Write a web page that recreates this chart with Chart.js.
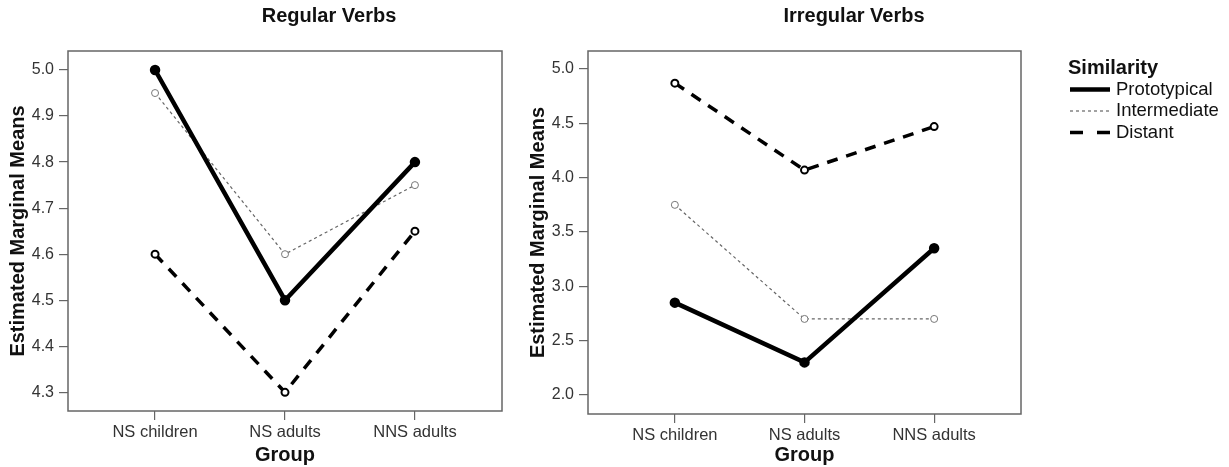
<!DOCTYPE html>
<html>
<head>
<meta charset="utf-8">
<title>Estimated Marginal Means</title>
<script src="https://cdn.jsdelivr.net/npm/chart.js@4.4.1/dist/chart.umd.min.js"></script>
<style>
  html, body { margin: 0; padding: 0; background: #fff; }
  #wrap { position: relative; width: 1229px; height: 467px; overflow: hidden; }
  canvas { position: absolute; top: 0; }
  #regular { left: 0; }
  #irregular { left: 520px; }
</style>
</head>
<body>
<div id="wrap">
  <canvas id="regular" width="520" height="467"></canvas>
  <canvas id="irregular" width="709" height="467"></canvas>
</div>
<script>
// chart data
const groups = ['NS children', 'NS adults', 'NNS adults'];
const similarity = ['Prototypical', 'Intermediate', 'Distant'];

// Regular verbs
const regPrototypical = [5.0, 4.5, 4.8];
const regIntermediate = [4.95, 4.6, 4.75];
const regDistant = [4.6, 4.3, 4.65];
const regTicks = [4.3, 4.4, 4.5, 4.6, 4.7, 4.8, 4.9, 5.0];

// Irregular verbs
const irrPrototypical = [2.85, 2.3, 3.35];
const irrIntermediate = [3.75, 2.7, 2.7];
const irrDistant = [4.87, 4.07, 4.47];
const irrTicks = [2.0, 2.5, 3.0, 3.5, 4.0, 4.5, 5.0];

const FONT = '"Liberation Sans", Arial, Helvetica, sans-serif';
const AXIS_GRAY = '#666';

// frame around plot area, panel title and (optionally) the legend
const panelExtras = {
    id: 'panelExtras',
    beforeDatasetsDraw(chart) {
        const { ctx, chartArea: a } = chart;
        ctx.save();
        ctx.strokeStyle = AXIS_GRAY;
        ctx.lineWidth = 1.5;
        ctx.strokeRect(a.left, a.top, a.right - a.left, a.bottom - a.top);
        ctx.restore();
    },
    afterDraw(chart, args, opts) {
        const ctx = chart.ctx;
        ctx.save();
        ctx.fillStyle = '#111';
        ctx.textAlign = 'center';
        ctx.textBaseline = 'middle';
        ctx.font = 'bold 20px ' + FONT;
        ctx.fillText(opts.title, opts.titleX, opts.titleY);

        if (opts.legend) {
            const lg = opts.legend;
            ctx.textAlign = 'left';
            ctx.font = 'bold 20px ' + FONT;
            ctx.fillText(lg.title, lg.x, lg.y);
            ctx.font = '18.5px ' + FONT;
            chart.data.datasets.forEach(function (ds, i) {
                const y = lg.y + lg.rowGap * (i + 1);
                ctx.strokeStyle = ds.borderColor;
                ctx.lineWidth = ds.borderWidth;
                ctx.setLineDash(lg.dashes[i]);
                ctx.beginPath();
                ctx.moveTo(lg.x + 2, y);
                ctx.lineTo(lg.x + 42, y);
                ctx.stroke();
                ctx.fillStyle = '#111';
                ctx.fillText(ds.label, lg.x + 48, y);
            });
        }
        ctx.restore();
    }
};

function makeDatasets(proto, inter, dist) {
    const pts = arr => arr.map((v, i) => ({ x: i, y: v }));
    return [
        {
            label: similarity[0], data: pts(proto),
            borderColor: '#000', borderWidth: 4.5,
            pointRadius: 4, pointBorderWidth: 2.5,
            pointBorderColor: '#000', pointBackgroundColor: '#000'
        },
        {
            label: similarity[1], data: pts(inter),
            borderColor: '#666', borderWidth: 1.2, borderDash: [3, 3],
            pointRadius: 3.5, pointBorderWidth: 1,
            pointBorderColor: '#777', pointBackgroundColor: '#fff'
        },
        {
            label: similarity[2], data: pts(dist),
            borderColor: '#000', borderWidth: 3.5, borderDash: [11, 9],
            pointRadius: 3.5, pointBorderWidth: 2,
            pointBorderColor: '#000', pointBackgroundColor: '#fff'
        }
    ];
}

function makeOptions(yMin, yMax, yTicks, xAxisHeight, padRight, extras) {
    return {
        responsive: false,
        animation: false,
        devicePixelRatio: 1,
        layout: { padding: { top: 51, right: padRight, bottom: 0, left: 0 } },
        elements: { line: { tension: 0 } },
        plugins: {
            legend: { display: false },
            tooltip: { enabled: false },
            panelExtras: extras
        },
        scales: {
            x: {
                type: 'linear',
                min: -0.67,
                max: 2.67,
                afterBuildTicks: s => { s.ticks = groups.map((g, i) => ({ value: i })); },
                afterFit: s => { s.height = xAxisHeight; },
                grid: { drawOnChartArea: false, drawTicks: true, tickLength: 9, color: AXIS_GRAY, lineWidth: 1.2 },
                border: { display: false },
                ticks: {
                    autoSkip: false, maxRotation: 0, padding: 3,
                    color: '#333', font: { family: FONT, size: 16.5 },
                    callback: v => groups[v]
                },
                title: {
                    display: true, text: 'Group', color: '#111',
                    font: { family: FONT, size: 20, weight: 'bold' },
                    padding: { top: 0, bottom: 0 }
                }
            },
            y: {
                min: yMin,
                max: yMax,
                afterBuildTicks: s => { s.ticks = yTicks.map(v => ({ value: v })); },
                afterFit: s => { s.width = 68; },
                grid: { drawOnChartArea: false, drawTicks: true, tickLength: 9, color: AXIS_GRAY, lineWidth: 1.2 },
                border: { display: false },
                ticks: {
                    padding: 5, color: '#333', font: { family: FONT, size: 16 },
                    callback: v => Number(v).toFixed(1)
                },
                title: {
                    display: true, text: 'Estimated Marginal Means', color: '#111',
                    font: { family: FONT, size: 20, weight: 'bold' },
                    padding: { top: 6, bottom: 0 }
                }
            }
        }
    };
}

new Chart(document.getElementById('regular'), {
    type: 'line',
    data: { datasets: makeDatasets(regPrototypical, regIntermediate, regDistant) },
    options: makeOptions(4.2594, 5.0413, regTicks, 56, 18,
        { title: 'Regular Verbs', titleX: 329, titleY: 16 }),
    plugins: [panelExtras]
});

new Chart(document.getElementById('irregular'), {
    type: 'line',
    data: { datasets: makeDatasets(irrPrototypical, irrIntermediate, irrDistant) },
    options: makeOptions(1.825, 5.166, irrTicks, 53, 208, {
        title: 'Irregular Verbs', titleX: 334, titleY: 16,
        legend: {
            title: 'Similarity', x: 548, y: 68, rowGap: 21.5,
            dashes: [[], [3, 3], [13, 14]]
        }
    }),
    plugins: [panelExtras]
});
</script>
</body>
</html>
